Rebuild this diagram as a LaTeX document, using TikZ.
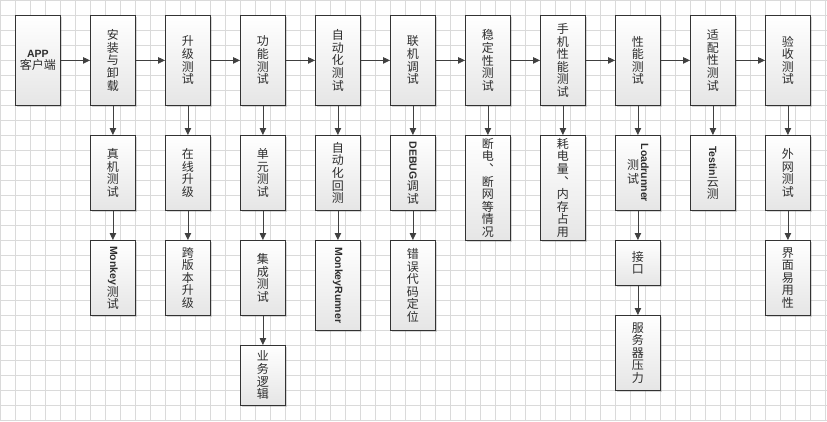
\documentclass[tikz,border=0pt]{standalone}
\usepackage{fontspec}
\newfontfamily\cjk{Noto Sans CJK SC}
\newfontfamily\latb{Liberation Sans}
\usetikzlibrary{arrows.meta,shadows}
\definecolor{bordc}{HTML}{333333}
\definecolor{txtc}{HTML}{2E2E2E}
\definecolor{gridc}{HTML}{DADADA}
\definecolor{arrc}{HTML}{404040}
\newcommand\lt[1]{\rotatebox[origin=c]{-90}{\latb\bfseries\fontsize{10.5}{12}\selectfont #1}}
\begin{document}
\begin{tikzpicture}[x=1pt,y=-1pt,
 box/.style={draw=bordc, line width=0.8pt, top color=white, middle color=black!2, bottom color=black!10,
   minimum width=45pt, inner sep=0pt, anchor=north west, align=center, text=txtc,
   font=\cjk\fontsize{12}{12.6}\selectfont,
   drop shadow={shadow xshift=1.5pt, shadow yshift=-1.5pt, opacity=0.25, fill=black!60}},
 arr/.style={draw=arrc, line width=0.8pt, -{Triangle[length=7pt,width=6.5pt]}},
 gridline/.style={draw=gridc, line width=0.7pt}]
\useasboundingbox (0,0) rectangle (827,421);
\fill[white] (0,0) rectangle (827,421);
\foreach \x in {0,15,...,825} \draw[gridline] (\x,0) -- (\x,421);
\foreach \y in {0,15,...,420} \draw[gridline] (0,\y) -- (827,\y);

% top row
\node[box, minimum height=90pt] (app) at (15,15) {{\latb\bfseries\fontsize{10.5}{12}\selectfont APP}\\客户端};
\node[box, minimum height=90pt] (t1) at (90,15) {安\\装\\与\\卸\\载};
\node[box, minimum height=90pt] (t2) at (165,15) {升\\级\\测\\试};
\node[box, minimum height=90pt] (t3) at (240,15) {功\\能\\测\\试};
\node[box, minimum height=90pt] (t4) at (315,15) {自\\动\\化\\测\\试};
\node[box, minimum height=90pt] (t5) at (390,15) {联\\机\\调\\试};
\node[box, minimum height=90pt] (t6) at (465,15) {稳\\定\\性\\测\\试};
\node[box, minimum height=90pt] (t7) at (540,15) {手\\机\\性\\能\\测\\试};
\node[box, minimum height=90pt] (t8) at (615,15) {性\\能\\测\\试};
\node[box, minimum height=90pt] (t9) at (690,15) {适\\配\\性\\测\\试};
\node[box, minimum height=90pt] (t10) at (765,15) {验\\收\\测\\试};

% second row
\node[box, minimum height=75pt] (m1) at (90,135) {真\\机\\测\\试};
\node[box, minimum height=75pt] (m2) at (165,135) {在\\线\\升\\级};
\node[box, minimum height=75pt] (m3) at (240,135) {单\\元\\测\\试};
\node[box, minimum height=75pt] (m4) at (315,135) {自\\动\\化\\回\\测};
\node[box, minimum height=75pt] (m5) at (390,135) {\lt{DEBUG}\\调\\试};
\node[box, minimum height=105pt] (m6) at (465,135) {断\\电\\︑\\断\\网\\等\\情\\况};
\node[box, minimum height=105pt] (m7) at (540,135) {耗\\电\\量\\︑\\内\\存\\占\\用};
\node[box, minimum height=75pt] (m8) at (615,135) {\begin{tabular}{@{}c@{}}测\\试\end{tabular}\hspace{2pt}\lt{Loadrunner}};
\node[box, minimum height=75pt] (m9) at (690,135) {\lt{Testin}\\云\\测};
\node[box, minimum height=75pt] (m10) at (765,135) {外\\网\\测\\试};

% third row
\node[box, minimum height=75pt] (b1) at (90,240) {\lt{Monkey}\\测\\试};
\node[box, minimum height=75pt] (b2) at (165,240) {跨\\版\\本\\升\\级};
\node[box, minimum height=75pt] (b3) at (240,240) {集\\成\\测\\试};
\node[box, minimum height=90pt] (b4) at (315,240) {\lt{MonkeyRunner}};
\node[box, minimum height=90pt] (b5) at (390,240) {错\\误\\代\\码\\定\\位};
\node[box, minimum height=45pt] (b8) at (615,240) {接\\口};
\node[box, minimum height=75pt] (b10) at (765,240) {界\\面\\易\\用\\性};

% fourth row
\node[box, minimum height=60pt] (d3) at (240,345) {业\\务\\逻\\辑};
\node[box, minimum height=75pt] (d8) at (615,315) {服\\务\\器\\压\\力};

\foreach \a/\b in {app/t1,t1/t2,t2/t3,t3/t4,t4/t5,t5/t6,t6/t7,t7/t8,t8/t9,t9/t10}
  \draw[arr] (\a.east) -- (\b.west);
\foreach \a/\b in {t1/m1,m1/b1,t2/m2,m2/b2,t3/m3,m3/b3,b3/d3,t4/m4,m4/b4,t5/m5,m5/b5,t6/m6,t7/m7,t8/m8,m8/b8,b8/d8,t9/m9,t10/m10,m10/b10}
  \draw[arr] (\a.south) -- (\b.north);
\end{tikzpicture}
\end{document}
